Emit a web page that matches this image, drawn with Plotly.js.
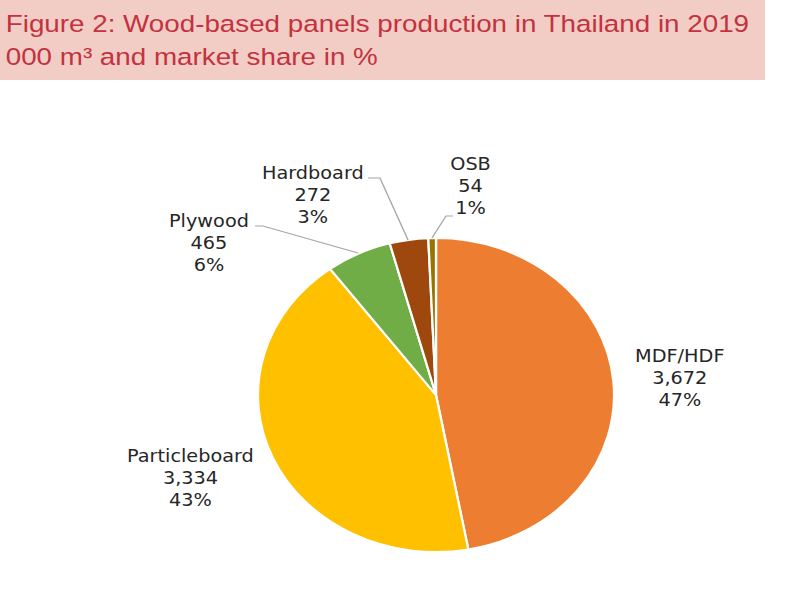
<!DOCTYPE html>
<html><head><meta charset="utf-8">
<script src="https://cdn.plot.ly/plotly-3.0.1.min.js"></script>
<style>
html,body{margin:0;padding:0;background:#fff;overflow:hidden;}
#wrap{width:804px;height:599px;overflow:hidden;position:relative;}
#chart{width:709px;height:599px;transform:scaleX(1.134);transform-origin:0 0;}
</style></head><body>
<div id="wrap"><div id="chart"></div></div>
<script>
// ---- data ----
const categories = ["MDF/HDF", "Particleboard", "Plywood", "Hardboard", "OSB"];
const volumes = [3672, 3334, 465, 272, 54];
const volumeLabels = ["3,672", "3,334", "465", "272", "54"];
const shareLabels = ["47%", "43%", "6%", "3%", "1%"];
const sliceColors = ["#ED7D31", "#FFC000", "#70AD47", "#9E480E", "#997300"];
const titleLine1 = "Figure 2: Wood-based panels production in Thailand in 2019";
const titleLine2 = "000 m³ and market share in %";

// ---- layout helpers (reference pixel -> paper) ----
const W = 804, H = 599;
const X = x => x / W;
const Y = y => 1 - y / H;
const labelCenters = [[680, 378], [190, 478], [209, 243], [313, 195], [471, 186]];
const leaders = [null, null,
  [[255, 226], [263, 226], [358, 253]],
  [[368, 178], [380, 178], [408, 240]],
  [[453, 216], [446, 216], [432, 238]]];

const trace = {
  type: "pie",
  labels: categories,
  values: volumes,
  sort: false,
  direction: "clockwise",
  rotation: 0,
  textinfo: "none",
  hoverinfo: "label+value+percent",
  marker: { colors: sliceColors, line: { color: "#ffffff", width: 2 } },
  domain: { x: [0.2923, 0.7923], y: [Y(552), Y(238)] },
  showlegend: false
};

const annotations = categories.map((c, i) => ({
  xref: "paper", yref: "paper",
  x: X(labelCenters[i][0]), y: Y(labelCenters[i][1]),
  xanchor: "center", yanchor: "middle", align: "center",
  showarrow: false,
  text: c + "<br>" + volumeLabels[i] + "<br>" + shareLabels[i],
  font: { family: "DejaVu Sans, sans-serif", size: 17, color: "#262626" }
}));
annotations.push({
  xref: "paper", yref: "paper", x: X(3), y: Y(24), xanchor: "left", yanchor: "middle",
  showarrow: false, text: titleLine1,
  font: { family: "Liberation Sans, Arial, sans-serif", size: 24.5, color: "#C4323F" }
});
annotations.push({
  xref: "paper", yref: "paper", x: X(3), y: Y(57), xanchor: "left", yanchor: "middle",
  showarrow: false, text: titleLine2,
  font: { family: "Liberation Sans, Arial, sans-serif", size: 24.5, color: "#C4323F" }
});

const shapes = [{
  type: "rect", xref: "paper", yref: "paper",
  x0: 0, x1: X(765), y0: Y(80), y1: 1,
  fillcolor: "#F1CDC5", line: { width: 0 }, layer: "below"
}];
leaders.forEach(pts => {
  if (!pts) return;
  const d = pts.map((p, k) => (k ? "L" : "M") + X(p[0]).toFixed(4) + "," + Y(p[1]).toFixed(4)).join(" ");
  shapes.push({ type: "path", xref: "paper", yref: "paper", path: d,
    line: { color: "#A6A6A6", width: 1.2 } });
});

const layout = {
  width: 709, height: 599,
  margin: { l: 0, r: 0, t: 0, b: 0 },
  paper_bgcolor: "#ffffff",
  plot_bgcolor: "#ffffff",
  annotations: annotations,
  shapes: shapes
};

Plotly.newPlot("chart", [trace], layout, { displayModeBar: false, staticPlot: true });
</script>
</body></html>
